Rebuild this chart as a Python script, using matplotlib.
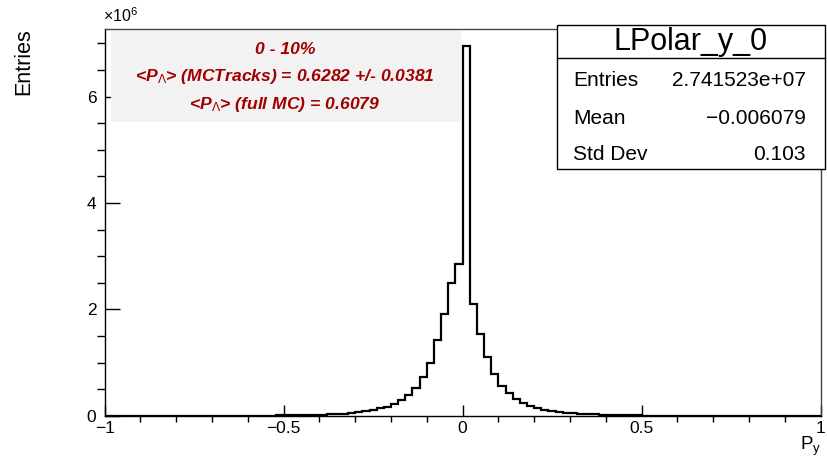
import numpy as np
import matplotlib
matplotlib.use("Agg")
import matplotlib.pyplot as plt
from matplotlib.patches import Rectangle
from matplotlib.ticker import MultipleLocator

plt.rcParams['font.family'] = ['Liberation Sans', 'DejaVu Sans']
plt.rcParams['mathtext.fontset'] = 'custom'
plt.rcParams['mathtext.rm'] = 'Liberation Sans'
plt.rcParams['mathtext.it'] = 'Liberation Sans:italic'
plt.rcParams['mathtext.bf'] = 'Liberation Sans:bold'

# histogram: 100 bins on [-1, 1], entries in units of 1e6
x_min, x_max, n_bins = -1.0, 1.0, 100
entries_millions = [
    # -1.00 .. -0.42
    0.001, 0.001, 0.001, 0.001, 0.001, 0.001, 0.001, 0.001, 0.001, 0.001,
    0.001, 0.001, 0.001, 0.001, 0.001, 0.001, 0.001, 0.001, 0.001, 0.002,
    0.002, 0.002, 0.003, 0.003, 0.004, 0.005, 0.006, 0.007, 0.009,
    # -0.42 .. 0.00
    0.018, 0.02, 0.025, 0.03, 0.04, 0.05, 0.07, 0.09, 0.11, 0.14,
    0.17, 0.22, 0.30, 0.39, 0.53, 0.73, 1.00, 1.42, 1.91, 2.49, 2.85,
    # 0.00 .. 0.40
    6.95, 2.10, 1.53, 1.10, 0.78, 0.56, 0.42, 0.31, 0.23, 0.18,
    0.14, 0.11, 0.09, 0.07, 0.055, 0.045, 0.035, 0.03, 0.025, 0.02,
    # 0.40 .. 1.00
    0.009, 0.007, 0.006, 0.005, 0.004, 0.003, 0.003, 0.002, 0.002, 0.002,
    0.001, 0.001, 0.001, 0.001, 0.001, 0.001, 0.001, 0.001, 0.001, 0.001,
    0.001, 0.001, 0.001, 0.001, 0.001, 0.001, 0.001, 0.001, 0.001, 0.001,
]

hist_name = "LPolar_y_0"
stats_rows = [("Entries", "2.741523e+07"), ("Mean", "\u22120.006079"), ("Std Dev", "0.103")]
info_lines = [
    "0 - 10%",
    r"<P$_{\Lambda}$> (MCTracks) = 0.6282 +/- 0.0381",
    r"<P$_{\Lambda}$> (full MC) = 0.6079",
]

W, H = 827, 457
fig = plt.figure(figsize=(W / 100, H / 100), dpi=100)


def fx(px):
    return px / W


def fy(py):
    return 1 - py / H


ax = fig.add_axes([fx(104.7), fy(415.7), fx(820.5) - fx(104.7), fy(29) - fy(415.7)])

edges = np.linspace(x_min, x_max, n_bins + 1)
ax.stairs(entries_millions, edges, color="black", lw=1.6)

ax.set_xlim(x_min, x_max)
ax.set_ylim(0, 7.27)
ax.xaxis.set_minor_locator(MultipleLocator(0.1))
ax.yaxis.set_minor_locator(MultipleLocator(0.5))
ax.set_xticks([-1, -0.5, 0, 0.5, 1])
ax.set_xticklabels(["\u22121", "\u22120.5", "0", "0.5", "1"])
ax.set_yticks([0, 2, 4, 6])
ax.set_yticklabels(["0", "2", "4", "6"])
ax.tick_params(direction="in", top=False, right=False)
ax.tick_params(axis="x", which="major", length=8, width=1, pad=4, labelsize=12.5)
ax.tick_params(axis="x", which="minor", length=4, width=1, top=False)
ax.tick_params(axis="y", which="major", length=11, width=1, pad=6, labelsize=12.5)
ax.tick_params(axis="y", which="minor", length=6, width=1, right=False)
for s in ax.spines.values():
    s.set_linewidth(1)
ax.spines["top"].set_color("#444444")
ax.spines["right"].set_color("#444444")

fig.text(fx(103), fy(16), r"$\times10^{6}$", fontsize=11.5, ha="left", va="center")
fig.text(fx(24), fy(28), "Entries", rotation=90, fontsize=15.5, ha="center", va="top")
fig.text(fx(821), fy(458), r"P$_{\rm y}$", fontsize=13.5, ha="right", va="bottom")

# info box
fig.patches.append(Rectangle((fx(111), fy(122)), fx(461) - fx(111), fy(31) - fy(122),
                             transform=fig.transFigure, facecolor="#f2f2f2", edgecolor="none"))
for line, ypx in zip(info_lines, [49, 77, 105]):
    fig.text(fx(285), fy(ypx), line, fontsize=12.6, fontweight="bold", fontstyle="italic",
             color="#a00000", ha="center", va="center")

# stats box
fig.patches.append(Rectangle((fx(557), fy(169)), fx(825) - fx(557), fy(25) - fy(169),
                             transform=fig.transFigure, facecolor="white", edgecolor="black", lw=1))
fig.add_artist(plt.Line2D([fx(557), fx(825)], [fy(58), fy(58)], transform=fig.transFigure,
                          color="black", lw=1))
fig.text(fx(691), fy(42), hist_name, fontsize=22, ha="center", va="center")
for (lab, val), ypx in zip(stats_rows, [80, 118, 155]):
    fig.text(fx(573), fy(ypx), lab, fontsize=15, ha="left", va="center")
    fig.text(fx(806), fy(ypx), val, fontsize=15, ha="right", va="center")

fig.savefig("out.png", dpi=100)
